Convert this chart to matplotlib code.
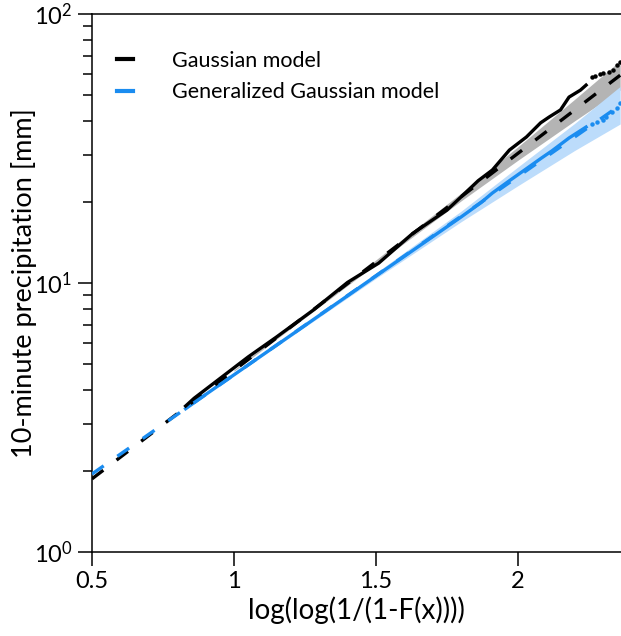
import numpy as np
import matplotlib.pyplot as plt
from matplotlib.lines import Line2D

# ---------------- data ----------------
# model lines (straight on these axes) -- end points
x_model = [0.5, 2.36]
y_gauss_model = [1.87, 59.2]
y_gg_model = [1.95, 45.8]

# confidence bands of the models
x_band = [1.0, 1.5, 1.8, 2.0, 2.2, 2.36]
gauss_lo = [4.70, 11.75, 20.2, 28.6, 40.1, 52.1]
gauss_hi = [4.76, 12.19, 21.6, 32.1, 48.2, 67.1]
gg_lo = [4.53, 10.4, 16.9, 23.0, 31.1, 39.0]
gg_hi = [4.59, 10.9, 18.5, 27.0, 39.2, 53.8]

# empirical quantiles, Gaussian-transformed
x_emp_gauss = [0.83, 0.86, 1.05, 1.15, 1.28, 1.40, 1.51, 1.63, 1.75, 1.80, 1.86,
               1.91, 1.97, 2.03, 2.08, 2.11, 2.15, 2.18, 2.22, 2.24]
y_emp_gauss = [3.49, 3.73, 5.31, 6.30, 7.94, 10.05, 11.86, 15.3, 18.66, 20.9, 24.0,
               26.3, 31.2, 34.9, 39.4, 41.4, 44.0, 49.1, 52.1, 54.4]
x_tail_gauss = [2.26, 2.27, 2.29, 2.30, 2.32, 2.335, 2.35, 2.36]
y_tail_gauss = [58.3, 58.9, 60.0, 60.4, 61.1, 61.9, 64.6, 66.1]

# empirical quantiles, generalized-Gaussian-transformed
x_emp_gg = [0.83, 0.88, 1.16, 1.51, 1.80, 1.87, 1.91, 1.97, 2.03, 2.08, 2.12, 2.18, 2.24]
y_emp_gg = [3.41, 3.72, 5.97, 10.8, 17.6, 19.9, 21.6, 24.0, 26.6, 29.0, 31.0, 34.6, 38.0]
x_tail_gg = [2.26, 2.28, 2.30, 2.31, 2.33, 2.35, 2.36]
y_tail_gg = [38.9, 39.8, 40.4, 41.4, 43.2, 44.8, 46.5]

labels = ['Gaussian model', 'Generalized Gaussian model']

# ---------------- style ----------------
plt.rcParams['font.family'] = ['Lato', 'DejaVu Sans']
plt.rcParams['mathtext.fontset'] = 'custom'
plt.rcParams['mathtext.rm'] = 'Lato'
plt.rcParams['mathtext.it'] = 'Lato:italic'

black = '#000000'
blue = '#1a8cf0'
gray_band = '#b4b4b4'
blue_band = '#bcdcfb'

fig = plt.figure(figsize=(6.21, 6.36), dpi=100)
ax = fig.add_axes([0.148, 0.132, 0.852, 0.846])

ax.fill_between(x_band, gauss_lo, gauss_hi, color=gray_band, lw=0, zorder=1)
ax.fill_between(x_band, gg_lo, gg_hi, color=blue_band, lw=0, zorder=1)

ax.plot(x_emp_gg, y_emp_gg, color=blue, lw=2.4, zorder=3)
ax.plot(x_tail_gg, y_tail_gg, ls='none', marker='o', ms=2.2, color=blue, zorder=3)
ax.plot(x_emp_gauss, y_emp_gauss, color=black, lw=2.4, zorder=4)
ax.plot(x_tail_gauss, y_tail_gauss, ls='none', marker='o', ms=2.2, color=black, zorder=4)

ax.plot(x_model, y_gauss_model, color=black, lw=2.4, dashes=(4.3, 5.0), zorder=5)
ax.plot(x_model, y_gg_model, color=blue, lw=2.4, dashes=(4.3, 5.0), zorder=5)

ax.set_yscale('log')
ax.set_xlim(0.5, 2.363)
ax.set_ylim(1, 100)
ax.set_xticks([0.5, 1, 1.5, 2])
ax.set_xticklabels(['0.5', '1', '1.5', '2'])

ax.spines['right'].set_visible(False)
for s in ['left', 'bottom', 'top']:
    ax.spines[s].set_linewidth(1.1)
ax.tick_params(axis='both', which='major', direction='out', length=10, width=1.1,
               labelsize=17, pad=4)
ax.tick_params(axis='y', which='minor', direction='out', length=6.5, width=1.1)
ax.tick_params(axis='x', which='minor', length=0)

ax.set_xlabel('log(log(1/(1-F(x))))', fontsize=20, labelpad=3)
ax.set_ylabel('10-minute precipitation [mm]', fontsize=19.5)
ax.yaxis.set_label_coords(-0.104, 0.5)

handles = [Line2D([], [], color=black, lw=3), Line2D([], [], color=blue, lw=3)]
ax.legend(handles, labels, loc='upper left', bbox_to_anchor=(0.047, 0.932),
          frameon=False, fontsize=15.5, handlelength=0.75, handletextpad=1.8,
          labelspacing=0.55, borderaxespad=0, borderpad=0)

fig.savefig('out.png', dpi=100)
